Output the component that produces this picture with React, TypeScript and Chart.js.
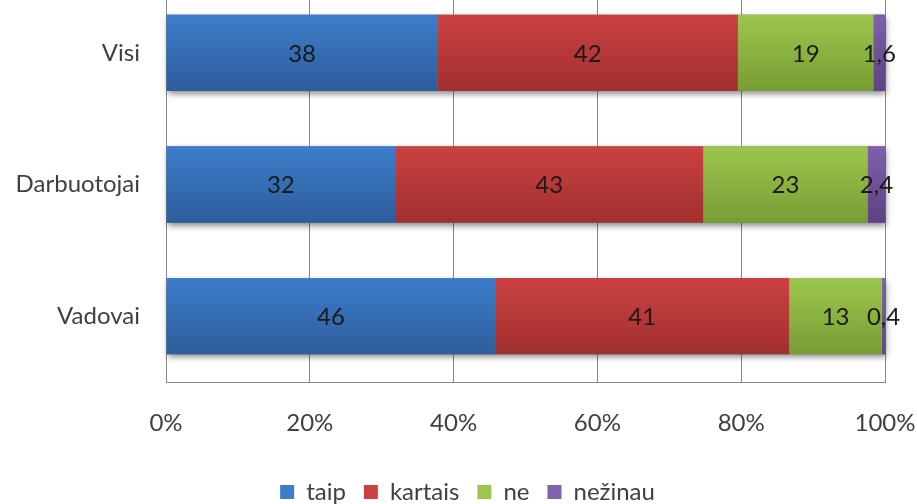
import React, { useEffect, useRef } from "react";
import { Chart, registerables } from "chart.js";

Chart.register(...registerables);

const categories = ["Visi", "Darbuotojai", "Vadovai"];
const seriesNames = ["taip", "kartais", "ne", "nežinau"];
const taip = [38, 32, 46];
const kartais = [42, 43, 41];
const ne = [19, 23, 13];
const nezinau = [1.6, 2.4, 0.4];
const xTicks = [0, 20, 40, 60, 80, 100];

const gradStops: [string, string][] = [
  ["#3d7dcb", "#2d5d9b"],
  ["#cc4141", "#a12f2f"],
  ["#9dc64d", "#789d35"],
  ["#8061ad", "#5d4181"],
];

const FONT = "Lato, 'Open Sans', sans-serif";

export default function App() {
  const ref = useRef<HTMLCanvasElement | null>(null);
  useEffect(() => {
    const raw = [taip, kartais, ne, nezinau];
    const totals = categories.map((_, i) => raw.reduce((s, arr) => s + arr[i], 0));
    const BAR_PCT = 0.58;

    const makeBg = (di: number) => (ctx: any) => {
      const chart = ctx.chart;
      const ys = chart.scales?.y;
      if (!ys || !chart.chartArea || ctx.dataIndex === undefined) return gradStops[di][0];
      const c = ys.getPixelForValue(ctx.dataIndex);
      const step = Math.abs(ys.getPixelForValue(1) - ys.getPixelForValue(0));
      const h = (step * BAR_PCT) / 2;
      const g = chart.ctx.createLinearGradient(0, c - h, 0, c + h);
      g.addColorStop(0, gradStops[di][0]);
      g.addColorStop(1, gradStops[di][1]);
      return g;
    };

    const shadowPlugin = {
      id: "barShadow",
      beforeDatasetsDraw(chart: any) {
        const c = chart.ctx;
        const first = chart.getDatasetMeta(0).data;
        const last = chart.getDatasetMeta(chart.data.datasets.length - 1).data;
        c.save();
        c.shadowColor = "rgba(0,0,0,0.45)";
        c.shadowBlur = 6;
        c.shadowOffsetX = 1;
        c.shadowOffsetY = 3;
        c.fillStyle = "#777";
        first.forEach((el: any, i: number) => {
          const l = last[i];
          const x0 = el.base;
          const x1 = l.x;
          const top = el.y - el.height / 2;
          c.fillRect(x0, top, x1 - x0, el.height);
        });
        c.restore();
      },
    };

    const labelPlugin = {
      id: "valueLabels",
      afterDatasetsDraw(chart: any) {
        const c = chart.ctx;
        c.save();
        c.font = `24px ${FONT}`;
        c.fillStyle = "#1a1a1a";
        c.textAlign = "center";
        c.textBaseline = "middle";
        chart.data.datasets.forEach((ds: any, di: number) => {
          chart.getDatasetMeta(di).data.forEach((el: any, i: number) => {
            const v = raw[di][i];
            const txt = String(v).replace(".", ",");
            c.fillText(txt, (el.x + el.base) / 2, el.y + 1);
          });
        });
        c.restore();
      },
    };

    const legendShift = {
      id: "legendShift",
      afterLayout(chart: any) {
        if (chart.legend) {
          chart.legend.left += 25;
          chart.legend.right += 25;
        }
      },
    };

    const chart = new Chart(ref.current!, {
      type: "bar",
      data: {
        labels: categories,
        datasets: seriesNames.map((name, di) => ({
          label: name,
          data: raw[di].map((v, i) => (v / totals[i]) * 100),
          backgroundColor: makeBg(di) as any,
          borderWidth: 0,
          barPercentage: BAR_PCT,
          categoryPercentage: 1,
        })),
      },
      options: {
        indexAxis: "y",
        animation: false,
        responsive: true,
        maintainAspectRatio: false,
        layout: { padding: { left: 0, right: 32, top: 0, bottom: 2 } },
        scales: {
          x: {
            stacked: true,
            min: 0,
            max: 100,
            afterBuildTicks(scale: any) {
              scale.ticks = xTicks.map((v) => ({ value: v }));
            },
            afterFit(scale: any) {
              scale.height = 80;
              scale.paddingLeft = 0;
              scale.paddingRight = 0;
            },
            ticks: {
              callback: (v: any) => v + "%",
              font: { size: 24, family: FONT },
              color: "#404040",
              padding: 27,
            },
            grid: { color: "#868686", lineWidth: 1, drawTicks: false },
            border: { color: "#868686", width: 1 },
          },
          y: {
            stacked: true,
            afterFit(scale: any) {
              scale.width = 166;
              scale.paddingTop = 0;
              scale.paddingBottom = 0;
            },
            ticks: {
              font: { size: 24, family: FONT },
              color: "#404040",
              padding: 26,
            },
            grid: { display: false, drawTicks: false },
            border: { color: "#868686", width: 1 },
          },
        },
        plugins: {
          legend: {
            position: "bottom",
            labels: {
              boxWidth: 14,
              boxHeight: 14,
              padding: 18,
              font: { size: 24, family: FONT },
              color: "#404040",
              generateLabels: (chart: any) =>
                chart.data.datasets.map((ds: any, i: number) => ({
                  text: ds.label,
                  fillStyle: gradStops[i][0],
                  strokeStyle: gradStops[i][0],
                  lineWidth: 0,
                  hidden: false,
                  datasetIndex: i,
                  fontColor: "#404040",
                })),
            },
          },
          tooltip: { enabled: false },
        },
      },
      plugins: [shadowPlugin, labelPlugin, legendShift],
    });
    return () => chart.destroy();
  }, []);

  return (
    <div style={{ position: "fixed", left: 0, top: -13, width: 917, height: 529, background: "#fff" }}>
      <canvas ref={ref} />
    </div>
  );
}
